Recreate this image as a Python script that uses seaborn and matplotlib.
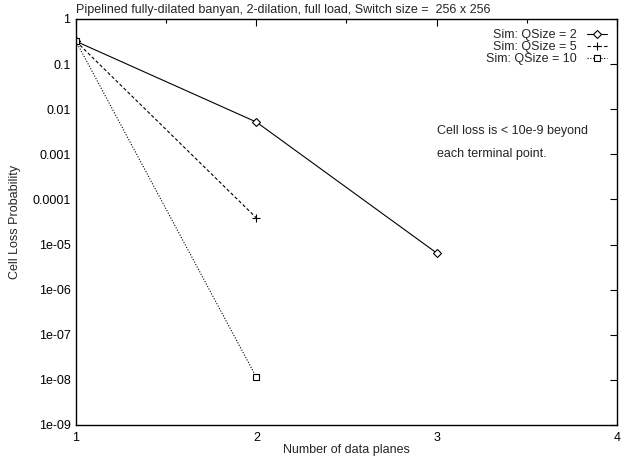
import matplotlib
matplotlib.use("Agg")
import matplotlib.pyplot as plt
import seaborn as sns
import pandas as pd
from matplotlib.ticker import NullLocator

# ---- data ----
planes_q2 = [1, 2, 3]
loss_q2 = [0.32, 0.0052, 6.5e-6]
planes_q5 = [1, 2]
loss_q5 = [0.32, 3.9e-5]
planes_q10 = [1, 2]
loss_q10 = [0.32, 1.15e-8]
labels = ["Sim: QSize = 2", "Sim: QSize = 5", "Sim: QSize = 10"]
title = "Pipelined fully-dilated banyan, 2-dilation, full load, Switch size =  256 x 256"
ytick_vals = [1, 0.1, 0.01, 0.001, 0.0001, 1e-05, 1e-06, 1e-07, 1e-08, 1e-09]
ytick_labels = ["1", "0.1", "0.01", "0.001", "0.0001", "1e-05", "1e-06", "1e-07", "1e-08", "1e-09"]
xtick_vals = [1, 2, 3, 4]

sns.set_style("white")
plt.rcParams['font.family'] = ['Liberation Sans', 'DejaVu Sans']
FS = 9

fig = plt.figure(figsize=(6.21, 4.57), dpi=100)
ax = fig.add_axes([76/621, 1-425/457, (617-76)/621, (425-19)/457])

series = [
    (planes_q2, loss_q2, labels[0], "D", "-", 4.0),
    (planes_q5, loss_q5, labels[1], "+", (0, (3, 2)), 6),
    (planes_q10, loss_q10, labels[2], "s", (0, (1, 1.5)), 5.0),
]
for xs, ys, lab, mk, ls, ms in series:
    df = pd.DataFrame({"x": xs, "y": ys})
    sns.lineplot(data=df, x="x", y="y", ax=ax, color="black", linewidth=0.8,
                 linestyle=ls, marker=mk, markersize=ms, markerfacecolor="white",
                 markeredgecolor="black", markeredgewidth=0.8, label=lab)

ax.set_yscale("log")
ax.set_xlim(1, 4)
ax.set_ylim(1e-9, 1)
ax.set_yticks(ytick_vals)
ax.set_yticklabels(ytick_labels)
ax.yaxis.set_minor_locator(NullLocator())
ax.set_xticks(xtick_vals)
ax.set_xticklabels([str(v) for v in xtick_vals])
ax.set_xticks([1.5, 2.5, 3.5], minor=True)

for s in ax.spines.values():
    s.set_color("black")
    s.set_linewidth(1.0)
ax.tick_params(axis="both", which="both", direction="in", top=True, right=True,
               colors="black", labelsize=FS, width=0.8)
ax.tick_params(axis="both", which="major", length=5)
ax.tick_params(axis="both", which="minor", length=3)
ax.tick_params(axis="y", pad=4)
ax.tick_params(axis="x", pad=5)

ax.set_xlabel("Number of data planes", fontsize=FS, labelpad=0)
ax.set_ylabel("Cell Loss Probability", fontsize=FS, labelpad=8)

ax.text(0.0, 1.008, title, transform=ax.transAxes, fontsize=FS, ha="left", va="bottom")
ax.text(3.0, 10**-2.48, "Cell loss is < 10e-9 beyond", fontsize=FS, ha="left", va="center")
ax.text(3.0, 10**-2.99, "each terminal point.", fontsize=FS, ha="left", va="center")

leg = ax.legend(loc="upper right", frameon=False, markerfirst=False, fontsize=FS,
                handlelength=1.6, handletextpad=0.8, labelspacing=0.0,
                borderaxespad=0.6, borderpad=0.2)
for t in leg.get_texts():
    t.set_ha("right")
leg._legend_box.align = "right"

fig.savefig("out.png", dpi=100)
